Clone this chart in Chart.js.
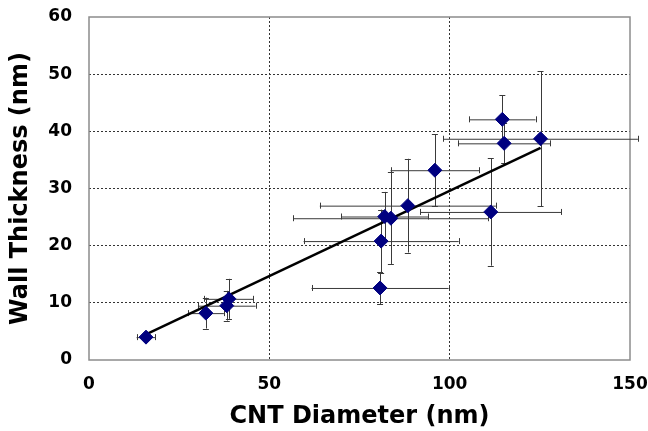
<!DOCTYPE html>
<html>
<head>
<meta charset="utf-8">
<script src="https://cdn.jsdelivr.net/npm/chart.js@4/dist/chart.umd.min.js"></script>
<style>
html,body{margin:0;padding:0;background:#fff;}
#wrap{width:648px;height:431px;}
</style>
</head>
<body>
<div id="wrap"><canvas id="c" width="648" height="431"></canvas></div>
<script>
// Data
const diameterNm = [15.8, 32.4, 38.8, 38.2, 80.7, 81.0, 82.0, 83.7, 88.4, 95.9, 111.4, 114.6, 115.1, 125.2];
const thicknessNm = [4.0, 8.2, 10.7, 9.5, 12.6, 20.8, 25.1, 24.8, 27.0, 33.2, 25.9, 42.1, 37.9, 38.7];
const diameterErr = [2.6, 5.0, 6.8, 8.0, 19.0, 21.5, 12.1, 27.0, 24.4, 12.3, 19.5, 9.2, 12.8, 27.0];
const thicknessErr = [0.5, 2.7, 3.5, 2.6, 2.8, 5.5, 4.3, 8.0, 8.2, 6.3, 9.4, 4.2, 3.5, 11.8];
const trendX = [15.8, 125.2];
const trendY = [4.5, 37.1];
const xTicks = [0, 50, 100, 150];
const yTicks = [0, 10, 20, 30, 40, 50, 60];

const points = diameterNm.map((x, i) => ({x: x, y: thicknessNm[i]}));
const trend = trendX.map((x, i) => ({x: x, y: trendY[i]}));

const errorBars = {
  id: 'errorBars',
  beforeDatasetsDraw(chart) {
    const ctx = chart.ctx, xs = chart.scales.x, ys = chart.scales.y;
    ctx.save();
    ctx.strokeStyle = '#3a3a3a';
    ctx.lineWidth = 1;
    const cap = 3;
    for (let i = 0; i < diameterNm.length; i++) {
      const px = xs.getPixelForValue(diameterNm[i]);
      const py = ys.getPixelForValue(thicknessNm[i]);
      const x1 = xs.getPixelForValue(diameterNm[i] - diameterErr[i]);
      const x2 = xs.getPixelForValue(diameterNm[i] + diameterErr[i]);
      const y1 = ys.getPixelForValue(thicknessNm[i] - thicknessErr[i]);
      const y2 = ys.getPixelForValue(thicknessNm[i] + thicknessErr[i]);
      ctx.beginPath();
      ctx.moveTo(x1, py + 0.5); ctx.lineTo(x2, py + 0.5);
      ctx.moveTo(Math.round(x1) + 0.5, py - cap); ctx.lineTo(Math.round(x1) + 0.5, py + cap);
      ctx.moveTo(Math.round(x2) + 0.5, py - cap); ctx.lineTo(Math.round(x2) + 0.5, py + cap);
      ctx.moveTo(Math.round(px) + 0.5, y1); ctx.lineTo(Math.round(px) + 0.5, y2);
      ctx.moveTo(px - cap, Math.round(y1) + 0.5); ctx.lineTo(px + cap, Math.round(y1) + 0.5);
      ctx.moveTo(px - cap, Math.round(y2) + 0.5); ctx.lineTo(px + cap, Math.round(y2) + 0.5);
      ctx.stroke();
    }
    ctx.restore();
  }
};

const frame = {
  id: 'frame',
  beforeDatasetsDraw(chart) {
    const a = chart.chartArea, ctx = chart.ctx;
    ctx.save();
    ctx.strokeStyle = '#8c8c8c';
    ctx.lineWidth = 1.5;
    ctx.strokeRect(a.left, a.top, a.right - a.left, a.bottom - a.top);
    ctx.restore();
  }
};

const gridColor = (ctx) => {
  const v = ctx.tick ? ctx.tick.value : null;
  const scale = ctx.scale;
  if (v === scale.min || v === scale.max) return 'rgba(0,0,0,0)';
  return '#333';
};

const tickFont = {family: 'DejaVu Sans', size: 17, weight: 'bold'};
const titleFont = {family: 'DejaVu Sans', size: 24, weight: 'bold'};

function noOverflow(s) {
  s.paddingTop = 0; s.paddingBottom = 0; s.paddingLeft = 0; s.paddingRight = 0;
}

new Chart(document.getElementById('c'), {
  type: 'scatter',
  data: {
    datasets: [
      {
        data: points,
        pointStyle: 'rectRot',
        pointRadius: 7,
        pointHoverRadius: 7,
        backgroundColor: '#000080',
        borderColor: '#000080',
        borderWidth: 1
      },
      {
        type: 'line',
        data: trend,
        showLine: true,
        borderColor: '#000',
        borderWidth: 2.5,
        pointRadius: 0,
        fill: false
      }
    ]
  },
  options: {
    responsive: false,
    animation: false,
    events: [],
    layout: {padding: {top: 17, right: 18, left: 0, bottom: 0}},
    plugins: {legend: {display: false}, tooltip: {enabled: false}},
    scales: {
      x: {
        type: 'linear', min: 0, max: 150,
        afterBuildTicks(s) { s.ticks = xTicks.map(v => ({value: v})); },
        afterFit(s) { s.height = 71; noOverflow(s); },
        border: {display: false, dash: [2, 2]},
        grid: {color: gridColor, lineWidth: 1, drawTicks: false},
        ticks: {color: '#000', padding: 14, font: tickFont},
        title: {display: true, text: 'CNT Diameter (nm)', color: '#000', padding: {top: 0, bottom: 0},
          font: titleFont}
      },
      y: {
        type: 'linear', min: 0, max: 60,
        afterBuildTicks(s) { s.ticks = yTicks.map(v => ({value: v})); },
        afterFit(s) { s.width = 89; noOverflow(s); },
        border: {display: false, dash: [2, 2]},
        grid: {color: gridColor, lineWidth: 1, drawTicks: false},
        ticks: {color: '#000', padding: 17, font: tickFont},
        title: {display: true, text: 'Wall Thickness (nm)', color: '#000', padding: {top: 6, bottom: 0},
          font: titleFont}
      }
    }
  },
  plugins: [frame, errorBars]
});
</script>
</body>
</html>
